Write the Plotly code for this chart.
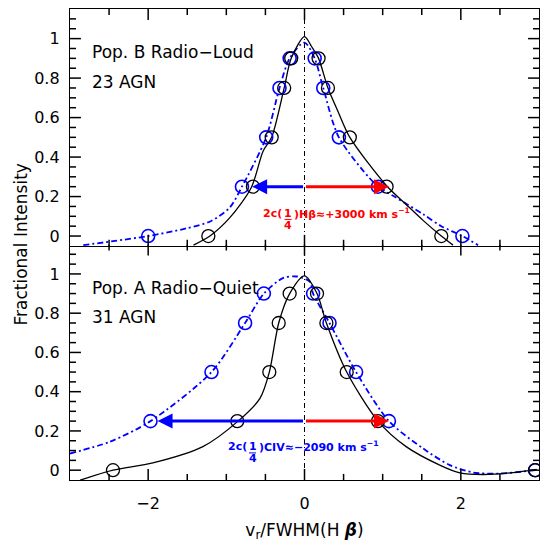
import plotly.graph_objects as go

# Pop. B radio-loud (upper panel): H-beta (black) and CIV (blue) profiles
top_hb_x = [-1.23, -0.66, -0.42, -0.26, -0.17, 0.18, 0.30, 0.58, 1.05, 1.75]
top_hb_y = [0.0, 0.25, 0.5, 0.75, 0.9, 0.9, 0.75, 0.5, 0.25, 0.0]
top_civ_x = [-2.0, -0.80, -0.49, -0.32, -0.19, 0.13, 0.24, 0.44, 0.94, 2.02]
top_civ_y = [0.0, 0.25, 0.5, 0.75, 0.9, 0.9, 0.75, 0.5, 0.25, 0.0]

top_hb_curve_x = [-1.42, -1.21, -0.955, -0.68, -0.53, -0.42, -0.26, -0.17, 0.0,
                  0.09, 0.18, 0.30, 0.43, 0.58, 1.05, 1.30, 1.52, 1.75, 1.90]
top_hb_curve_y = [-0.046, 0.0, 0.093, 0.246, 0.43, 0.5, 0.75, 0.9, 1.01,
                  0.96, 0.9, 0.75, 0.63, 0.5, 0.255, 0.16, 0.078, 0.0, -0.046]
top_civ_curve_x = [-2.83, -2.0, -1.51, -1.20, -0.955, -0.80, -0.49, -0.32, -0.19, 0.0,
                   0.13, 0.24, 0.44, 0.94, 1.15, 1.52, 1.75, 2.02, 2.22]
top_civ_curve_y = [-0.046, 0.0, 0.039, 0.075, 0.145, 0.25, 0.5, 0.75, 0.9, 0.98,
                   0.9, 0.75, 0.5, 0.25, 0.20, 0.11, 0.05, 0.0, -0.046]

# Pop. A radio-quiet (lower panel)
bot_hb_x = [-2.45, -0.86, -0.45, -0.33, -0.19, 0.16, 0.28, 0.54, 0.94, 2.95]
bot_hb_y = [0.0, 0.25, 0.5, 0.75, 0.9, 0.9, 0.75, 0.5, 0.25, 0.0]
bot_civ_x = [-1.97, -1.19, -0.76, -0.52, 0.11, 0.32, 0.66, 1.08, 2.95]
bot_civ_y = [0.25, 0.5, 0.75, 0.9, 0.9, 0.75, 0.5, 0.25, 0.0]

bot_hb_curve_x = [-2.87, -2.45, -1.94, -1.30, -0.85, -0.57, -0.45, -0.33, -0.19, 0.0,
                  0.16, 0.28, 0.54, 0.94, 1.30, 1.73, 1.99, 2.28, 2.67, 2.97]
bot_hb_curve_y = [-0.051, 0.0, 0.037, 0.12, 0.25, 0.366, 0.5, 0.75, 0.9, 0.99,
                  0.9, 0.75, 0.5, 0.25, 0.12, 0.026, -0.014, -0.022, -0.012, 0.004]
bot_civ_curve_x = [-3.0, -2.49, -1.97, -1.19, -0.76, -0.52, -0.27, -0.1, 0.07,
                   0.11, 0.32, 0.66, 1.08, 1.52, 1.86, 2.16, 2.5, 2.95]
bot_civ_curve_y = [0.085, 0.145, 0.25, 0.5, 0.75, 0.9, 0.98, 0.987, 0.96,
                   0.9, 0.75, 0.5, 0.25, 0.11, 0.026, -0.012, -0.017, 0.0]

# quarter-maximum shift arrows (start at 0, tip positions)
arrow_level = 0.25
top_arrow_tips = [-0.67, 1.08]
bot_arrow_tips = [-1.88, 1.08]

# axis ranges and tick marks
x_range = [-3, 3]
y_range = [-0.05, 1.15]
x_tick_vals = [-2.5, -2.0, -1.5, -1.0, -0.5, 0.0, 0.5, 1.0, 1.5, 2.0, 2.5]
x_major = [-2.0, 0.0, 2.0]
y_tick_vals = [round(0.05 * i, 2) for i in range(23)]
y_major = [0.0, 0.2, 0.4, 0.6, 0.8, 1.0]

BLUE = "#0000ff"
RED = "#ff0000"
FONT = "DejaVu Sans"
DASHDOT = "6px,3px,2px,3px"

fig = go.Figure()


def add_panel(xa, ya, px, py, cx, cy, bx, by, bcx, bcy):
    fig.add_trace(go.Scatter(x=cx, y=cy, mode="lines", xaxis=xa, yaxis=ya,
                             line=dict(color=BLUE, width=1.8, dash=DASHDOT,
                                       shape="spline", smoothing=0.8)))
    fig.add_trace(go.Scatter(x=bcx, y=bcy, mode="lines", xaxis=xa, yaxis=ya,
                             line=dict(color="black", width=1.3,
                                       shape="spline", smoothing=0.8)))
    fig.add_trace(go.Scatter(x=bx, y=by, mode="markers", xaxis=xa, yaxis=ya,
                             marker=dict(symbol="circle-open", size=13, color=BLUE,
                                         line=dict(width=1.6, color=BLUE))))
    fig.add_trace(go.Scatter(x=px, y=py, mode="markers", xaxis=xa, yaxis=ya,
                             marker=dict(symbol="circle-open", size=13, color="black",
                                         line=dict(width=1.3, color="black"))))


add_panel("x2", "y2", top_hb_x, top_hb_y, top_civ_curve_x, top_civ_curve_y,
          top_civ_x, top_civ_y, top_hb_curve_x, top_hb_curve_y)
add_panel("x", "y", bot_hb_x, bot_hb_y, bot_civ_curve_x, bot_civ_curve_y,
          bot_civ_x, bot_civ_y, bot_hb_curve_x, bot_hb_curve_y)

annotations = []
shapes = []

# tick marks on all four sides of both panels (inside, PGPLOT style);
# lengths in axis units: ~11 px major, ~6 px minor
tick_line = dict(color="black", width=1.5)
xlen = {True: 0.14, False: 0.077}
ylen = {True: 0.056, False: 0.031}
for xa, ya in (("x", "y"), ("x2", "y2")):
    for v in y_tick_vals:
        ln = xlen[v in y_major]
        shapes.append(dict(type="line", xref=xa, yref=ya, x0=x_range[0],
                           x1=x_range[0] + ln, y0=v, y1=v, line=tick_line))
        shapes.append(dict(type="line", xref=xa, yref=ya, x0=x_range[1],
                           x1=x_range[1] - ln, y0=v, y1=v, line=tick_line))
    for v in x_tick_vals:
        ln = ylen[v in x_major]
        shapes.append(dict(type="line", xref=xa, yref=ya, x0=v, x1=v,
                           y0=y_range[0], y1=y_range[0] + ln, line=tick_line))
        shapes.append(dict(type="line", xref=xa, yref=ya, x0=v, x1=v,
                           y0=y_range[1], y1=y_range[1] - ln, line=tick_line))

# arrows
for xa, ya, tips in (("x2", "y2", top_arrow_tips), ("x", "y", bot_arrow_tips)):
    for tip, col in zip(tips, (BLUE, RED)):
        annotations.append(dict(x=tip, y=arrow_level, ax=0, ay=arrow_level,
                                xref=xa, yref=ya, axref=xa, ayref=ya, text="",
                                showarrow=True, arrowhead=2, arrowsize=1.0,
                                arrowwidth=3, arrowcolor=col, standoff=0))


def frac_label(xa, ya, xf, yr, left, right, col):
    f = dict(family="DejaVu Sans", size=11, color=col)
    annotations.append(dict(x=xf, y=yr, xref=xa, yref=ya, text="<b>%s</b>" % left,
                            xanchor="right", yanchor="middle", xshift=-4,
                            showarrow=False, font=f))
    annotations.append(dict(x=xf, y=yr, xref=xa, yref=ya, text="<b>1</b>",
                            xanchor="center", yanchor="middle", showarrow=False, font=f))
    annotations.append(dict(x=xf, y=yr, xref=xa, yref=ya, text="<b>4</b>",
                            xanchor="center", yanchor="middle", yshift=-12,
                            showarrow=False, font=f))
    annotations.append(dict(x=xf, y=yr, xref=xa, yref=ya, text="<b>%s</b>" % right,
                            xanchor="left", yanchor="middle", xshift=4,
                            showarrow=False, font=f))
    shapes.append(dict(type="line", xref=xa, yref=ya, x0=xf - 0.045, x1=xf + 0.045,
                       y0=yr - 0.031, y1=yr - 0.031, line=dict(color=col, width=1)))


frac_label("x2", "y2", -0.21, 0.115, "2c(", ")Hβ≈+3000 km s<sup>−1</sup>", RED)
frac_label("x", "y", -0.665, 0.119, "2c(", ")CIV≈−2090 km s<sup>−1</sup>", BLUE)

# panel labels
for xa, ya, l1, l2 in (("x2", "y2", "Pop. B Radio−Loud", "23 AGN"),
                       ("x", "y", "Pop. A Radio−Quiet", "31 AGN")):
    annotations.append(dict(x=-2.745, y=0.93, xref=xa, yref=ya, text=l1,
                            xanchor="left", yanchor="middle", showarrow=False,
                            font=dict(family=FONT, size=17, color="black")))
    annotations.append(dict(x=-2.745, y=0.78, xref=xa, yref=ya, text=l2,
                            xanchor="left", yanchor="middle", showarrow=False,
                            font=dict(family=FONT, size=17, color="black")))

annotations.append(dict(x=-0.1045, y=0.5, xref="paper", yref="paper",
                        text="Fractional Intensity", textangle=-90, showarrow=False,
                        xanchor="center", yanchor="middle",
                        font=dict(family=FONT, size=17, color="black")))

# zero-velocity line
shapes.append(dict(type="line", xref="x", yref="paper", x0=0, x1=0, y0=0, y1=1,
                   line=dict(color="black", width=1, dash="5px,3px,1px,3px")))

xcommon = dict(range=x_range, tick0=0, dtick=2, ticks="", showline=True,
               linecolor="black", linewidth=1.3, mirror=True, showgrid=False,
               zeroline=False, automargin=False,
               tickfont=dict(family=FONT, size=16, color="black"))
ycommon = dict(range=y_range, tick0=0, dtick=0.2, ticks="", showline=True,
               linecolor="black", linewidth=1.3, mirror=True, showgrid=False,
               zeroline=False, automargin=False, ticklabelstandoff=6,
               tickfont=dict(family=FONT, size=16, color="black"))

fig.update_layout(
    width=550, height=549,
    margin=dict(l=70, r=11, t=9, b=69),
    plot_bgcolor="white", paper_bgcolor="white",
    showlegend=False,
    xaxis=dict(xcommon, anchor="y", domain=[0, 1], ticklabelstandoff=9,
               title=dict(text="v<sub>r</sub>/FWHM(H <b><i>β</i></b>)", standoff=11,
                          font=dict(family=FONT, size=17, color="black"))),
    yaxis=dict(ycommon, anchor="x", domain=[0, 0.5]),
    xaxis2=dict(xcommon, anchor="y2", matches="x", showticklabels=False),
    yaxis2=dict(ycommon, anchor="x2", domain=[0.497, 1]),
    annotations=annotations,
    shapes=shapes,
)

fig.write_html("out.html", config={"displayModeBar": False},
               post_script="document.body.style.margin = '0px';")
